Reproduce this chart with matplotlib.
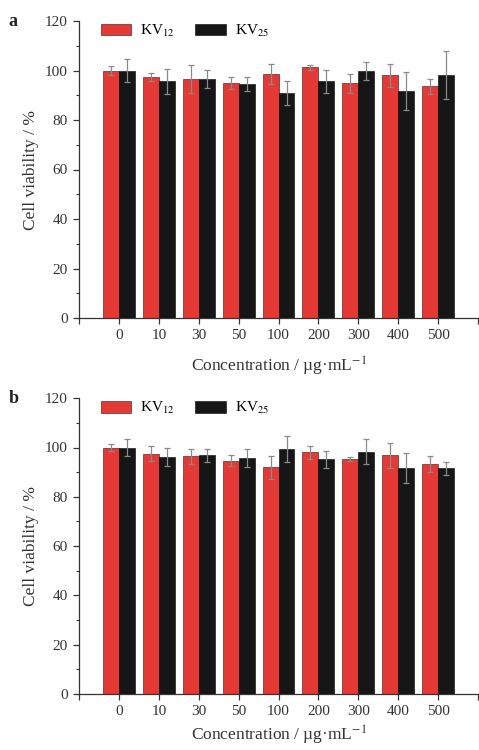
import numpy as np
import matplotlib
matplotlib.use("Agg")
import matplotlib.pyplot as plt

plt.rcParams['font.family'] = ['Liberation Serif', 'DejaVu Serif']
plt.rcParams['mathtext.fontset'] = 'stix'

# data
conc = ['0', '10', '30', '50', '100', '200', '300', '400', '500']

kv12_a = [100.0, 97.5, 96.6, 95.1, 98.6, 101.3, 94.8, 98.1, 93.7]
kv12_a_err = [2.0, 1.6, 5.6, 2.4, 3.9, 0.9, 3.8, 4.7, 3.0]
kv25_a = [100.0, 95.6, 96.6, 94.7, 90.8, 95.6, 99.7, 91.6, 98.2]
kv25_a_err = [4.5, 5.0, 3.5, 2.8, 4.8, 4.7, 3.6, 7.7, 9.8]

kv12_b = [100.0, 97.5, 96.4, 94.6, 91.9, 98.1, 95.3, 96.9, 93.3]
kv12_b_err = [1.6, 3.1, 3.1, 2.3, 4.5, 2.7, 0.7, 5.1, 3.1]
kv25_b = [100.0, 96.3, 96.9, 95.7, 99.5, 95.2, 98.3, 91.7, 91.5]
kv25_b_err = [3.4, 3.7, 2.6, 3.5, 5.3, 3.4, 5.2, 6.2, 2.7]

red = '#e53935'
black = '#161616'

fig = plt.figure(figsize=(4.79, 7.5), dpi=100)
ax_a = fig.add_axes([0.165, 0.576, 0.833, 0.396])
ax_b = fig.add_axes([0.165, 0.075, 0.833, 0.394])

def panel(ax, r, re, k, ke, xpad):
    x = np.arange(len(conc))
    w = 0.4
    ekw = dict(ecolor='#8a8a8a', elinewidth=0.9, capsize=2.5, capthick=0.9)
    ax.bar(x - w/2, r, w, yerr=re, color=red, edgecolor='#3a1010',
           linewidth=0.4, error_kw=ekw, label=r'KV$_{12}$')
    ax.bar(x + w/2, k, w, yerr=ke, color=black, edgecolor='#000000',
           linewidth=0.4, error_kw=ekw, label=r'KV$_{25}$')
    ax.set_xlim(-1, 9)
    ax.set_ylim(0, 120)
    ax.set_xticks(np.arange(-1, 10))
    ax.set_xticklabels([''] + conc + [''])
    ax.set_yticks(np.arange(0, 121, 20))
    ax.set_yticks(np.arange(10, 120, 20), minor=True)
    ax.spines['top'].set_visible(False)
    ax.spines['right'].set_visible(False)
    for s in ['left', 'bottom']:
        ax.spines[s].set_color('#333333')
        ax.spines[s].set_linewidth(0.9)
    ax.tick_params(axis='both', which='major', direction='out', length=4,
                   width=0.9, labelsize=11, colors='#333333', pad=4)
    ax.tick_params(axis='y', which='minor', direction='out', length=2.5,
                   width=0.8, colors='#333333')
    ax.set_ylabel('Cell viability / %', fontsize=12.5, color='#333333', labelpad=4)
    ax.set_xlabel('Concentration / µg·mL$^{-1}$', fontsize=12.5,
                  color='#333333', labelpad=xpad)
    ax.legend(loc='upper left', bbox_to_anchor=(0.02, 1.04), ncol=2,
              frameon=False, fontsize=11, handlelength=2.0, handleheight=0.8,
              columnspacing=1.3, handletextpad=0.6)

panel(ax_a, kv12_a, kv12_a_err, kv25_a, kv25_a_err, 9)
panel(ax_b, kv12_b, kv12_b_err, kv25_b, kv25_b_err, 4)

fig.text(0.018, 0.972, 'a', fontsize=13, fontweight='bold', va='center', color='#222222')
fig.text(0.018, 0.469, 'b', fontsize=13, fontweight='bold', va='center', color='#222222')

fig.savefig('out.png', dpi=100)
